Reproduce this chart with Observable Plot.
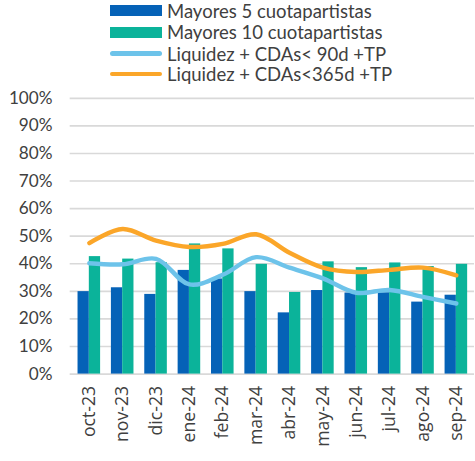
<!DOCTYPE html>
<html>
<head>
<meta charset="utf-8">
<script src="https://cdn.jsdelivr.net/npm/d3@7"></script>
<script src="https://cdn.jsdelivr.net/npm/@observablehq/plot@0.6"></script>
<style>
  html, body { margin: 0; padding: 0; background: #fff; overflow: hidden; width: 475px; height: 461px; }
  #wrap { position: relative; width: 475px; height: 461px; overflow: hidden; }
  #legend { position: absolute; left: 0; top: 0; width: 475px; height: 88px; font-family: Lato, sans-serif; font-size: 18.5px; color: #404040; }
  .row { position: absolute; left: 110px; height: 20px; display: flex; align-items: center; white-space: nowrap; }
  .sw { width: 52px; margin-right: 5px; flex: none; }
  .bar { height: 11px; }
  .ln { height: 4.5px; border-radius: 3px; }
  #chart { position: absolute; left: 0; top: 88px; }
</style>
</head>
<body>
<div id="wrap">
  <div id="legend"></div>
  <div id="chart"></div>
</div>
<script>
const months = ["oct-23","nov-23","dic-23","ene-24","feb-24","mar-24","abr-24","may-24","jun-24","jul-24","ago-24","sep-24"];
const top5   = [29.9, 31.3, 28.9, 37.6, 34.5, 29.9, 22.2, 30.3, 29.4, 29.5, 26.1, 28.6];
const top10  = [42.6, 41.7, 40.4, 47.2, 45.4, 39.8, 29.6, 40.7, 38.6, 40.3, 39.0, 39.8];
const liq90  = [40.2, 39.8, 41.8, 32.5, 36.0, 42.4, 38.6, 34.7, 29.5, 30.5, 28.0, 25.6];
const liq365 = [47.5, 52.6, 48.4, 46.1, 47.2, 50.7, 44.0, 38.6, 37.0, 37.8, 38.6, 35.8];
const seriesNames = ["Mayores 5 cuotapartistas", "Mayores 10 cuotapartistas", "Liquidez + CDAs< 90d +TP", "Liquidez + CDAs<365d +TP"];
const colors = ["#0562b7", "#0bb39a", "#6dc3ea", "#fba629"];
const yTicks = [0,0.1,0.2,0.3,0.4,0.5,0.6,0.7,0.8,0.9,1.0];

const rows = (arr) => months.map((m, i) => ({month: m, value: arr[i] / 100}));

// legend
const legend = document.getElementById("legend");
const rowCenters = [10.5, 32, 53.5, 74];
seriesNames.forEach((name, i) => {
  const r = document.createElement("div");
  r.className = "row";
  r.style.top = (rowCenters[i] - 10) + "px";
  const sw = document.createElement("div");
  sw.className = "sw " + (i < 2 ? "bar" : "ln");
  sw.style.background = colors[i];
  const t = document.createElement("span");
  t.textContent = name;
  r.appendChild(sw); r.appendChild(t);
  legend.appendChild(r);
});

const plot = Plot.plot({
  width: 484,
  height: 373,
  marginLeft: 71,
  marginRight: 1,
  marginTop: 10,
  marginBottom: 82,
  style: {fontFamily: "Lato, sans-serif", fontSize: "17.5px", color: "#404040", background: "transparent"},
  x: {domain: months, paddingInner: 0.33, paddingOuter: 0.165, label: null},
  y: {domain: [0, 1], label: null},
  marks: [
    Plot.gridY(yTicks, {stroke: "#d9d9d9", strokeOpacity: 1, strokeWidth: 1.7}),
    Plot.axisY(yTicks, {tickSize: 0, tickPadding: 18, tickFormat: d3.format(".0%"), label: null, fontSize: 17.5}),
    Plot.axisX({tickSize: 0, tickRotate: -90, tickPadding: 12, label: null, fontSize: 18, fontFamily: "Open Sans, sans-serif"}),
    Plot.barY(rows(top5), {x: "month", y: "value", fill: colors[0], insetRight: 11.5}),
    Plot.barY(rows(top10), {x: "month", y: "value", fill: colors[1], insetLeft: 11.5}),
    Plot.lineY(rows(liq90), {x: "month", y: "value", stroke: colors[2], strokeWidth: 4.5, curve: "catmull-rom"}),
    Plot.lineY(rows(liq365), {x: "month", y: "value", stroke: colors[3], strokeWidth: 4.5, curve: "catmull-rom"})
  ]
});
document.getElementById("chart").appendChild(plot);
</script>
</body>
</html>
